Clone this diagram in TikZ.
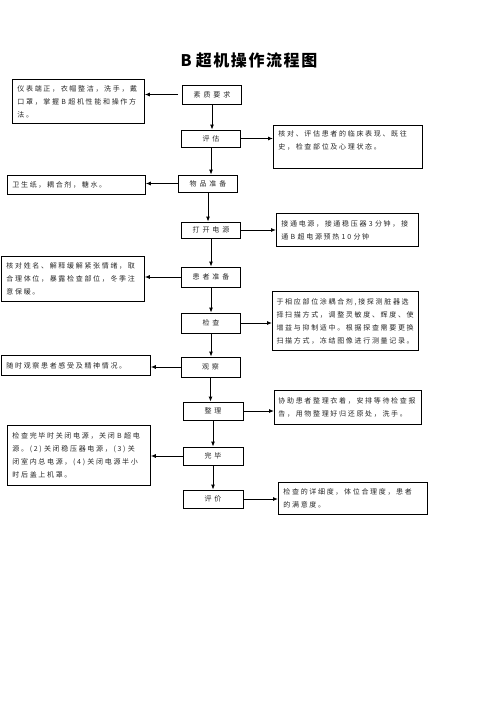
\documentclass[tikz,border=0pt]{standalone}
\usepackage{fontspec}
\newfontfamily\cjk[LetterSpace=24]{Noto Sans CJK SC}
\newfontfamily\cjkc[LetterSpace=42]{Noto Sans CJK SC}
\newfontfamily\cjkt[LetterSpace=10]{Noto Sans CJK SC}
\usetikzlibrary{arrows.meta}
\tikzset{
  mainbox/.style={draw, line width=0.8pt, inner sep=0pt, minimum width=59pt, minimum height=18pt,
    font=\cjkc\fontsize{7}{9}\selectfont, text=black!85},
  note/.style={draw, line width=0.8pt, anchor=north west, align=left, inner xsep=5pt, inner ysep=0pt,
    font=\cjk\fontsize{7}{13}\selectfont, text=black!85},
  arr/.style={line width=0.9pt, -{Latex[length=5pt,width=4pt]}},
}
\begin{document}
\begin{tikzpicture}[x=1pt,y=-1pt]
\useasboundingbox (0,0) rectangle (496,702);
% title
\node[font=\cjkt\bfseries\fontsize{16}{18}\selectfont, inner sep=0pt] (T) at (249,60) {B\hspace{4pt}超机操作流程图};
% centre column
\node[mainbox, minimum height=19pt] (A) at (212,94.5) {素质要求};
\node[mainbox, minimum height=17pt] (B) at (211,138.5) {评估};
\node[mainbox, minimum height=17pt] (C) at (208,183.5) {物品准备};
\node[mainbox, minimum height=16pt] (D) at (211,230) {打开电源};
\node[mainbox, minimum height=20pt] (E) at (211,277) {患者准备};
\node[mainbox, minimum height=20pt] (F) at (211,323) {检查};
\node[mainbox, minimum height=20pt] (G) at (210.5,367) {观察};
\node[mainbox, minimum height=18pt, minimum width=60pt] (H) at (213,411) {整理};
\node[mainbox, minimum height=18pt, minimum width=60pt] (I) at (213,456) {完毕};
\node[mainbox, minimum height=18pt, minimum width=60pt] (J) at (213,499) {评价};
% left notes
\node[note, text width=122pt, minimum height=44pt] (L1) at (12,79)
  {仪表端正，衣帽整洁，洗手，戴\\口罩，掌握 B 超机性能和操作方\\法。};
\node[note, text width=128pt, minimum height=19pt] (L2) at (7,175)
  {卫生纸，耦合剂，糖水。};
\node[note, text width=133pt, minimum height=45pt] (L3) at (1,256)
  {核对姓名、解释缓解紧张情绪，取\\合理体位，暴露检查部位，冬季注\\意保暖。};
\node[note, text width=139pt, minimum height=20pt] (L4) at (1,355)
  {随时观察患者感受及精神情况。};
\node[note, text width=133pt, minimum height=60pt] (L5) at (7,425)
  {检查完毕时关闭电源，关闭 B 超电\\源。(2) 关闭稳压器电源，(3) 关\\闭室内总电源，(4) 关闭电源半小\\时后盖上机罩。};
% right notes
\node[note, text width=139pt, minimum height=43pt] (R1) at (273,125)
  {核对、评估患者的临床表现、既往\\史，检查部位及心理状态。\\\mbox{}};
\node[note, text width=132pt, minimum height=33pt] (R2) at (276,213)
  {接通电源，接通稳压器 3 分钟，接\\通 B 超电源预热 10 分钟};
\node[note, inner xsep=4pt, text width=138pt, minimum height=59pt, line width=1.1pt] (R3) at (272,291)
  {于相应部位涂耦合剂,接探测脏器选\\择扫描方式，调整灵敏度、辉度、使\\增益与抑制适中。根据探查需要更换\\扫描方式，冻结图像进行测量记录。};
\node[note, inner xsep=4pt, text width=139pt, minimum height=34pt] (R4) at (274,390)
  {协助患者整理衣着，安排等待检查报\\告，用物整理好归还原处，洗手。};
\node[note, text width=139pt, minimum height=32pt] (R5) at (278,482)
  {检查的详细度，体位合理度，患者\\的满意度。};
% vertical arrows
\foreach \u/\v in {A/B,B/C,C/D,D/E,E/F,F/G,G/H,H/I,I/J}
  \draw[arr] (\u.south) -- (\u.south |- \v.north);
% side arrows
\draw[arr] ([xshift=-4pt]A.west) -- (A.west -| L1.east);
\draw[arr] (B.east) -- (B.east -| R1.west);
\draw[arr] (C.west) -- (C.west -| L2.east);
\draw[arr] (D.east) -- (D.east -| R2.west);
\draw[arr] (E.west) -- (E.west -| L3.east);
\draw[arr] (F.east) -- (F.east -| R3.west);
\draw[arr] (G.west) -- (G.west -| L4.east);
\draw[arr] (H.east) -- (H.east -| R4.west);
\draw[arr] (I.west) -- (I.west -| L5.east);
\draw[arr] (J.east) -- (J.east -| R5.west);
\end{tikzpicture}
\end{document}
